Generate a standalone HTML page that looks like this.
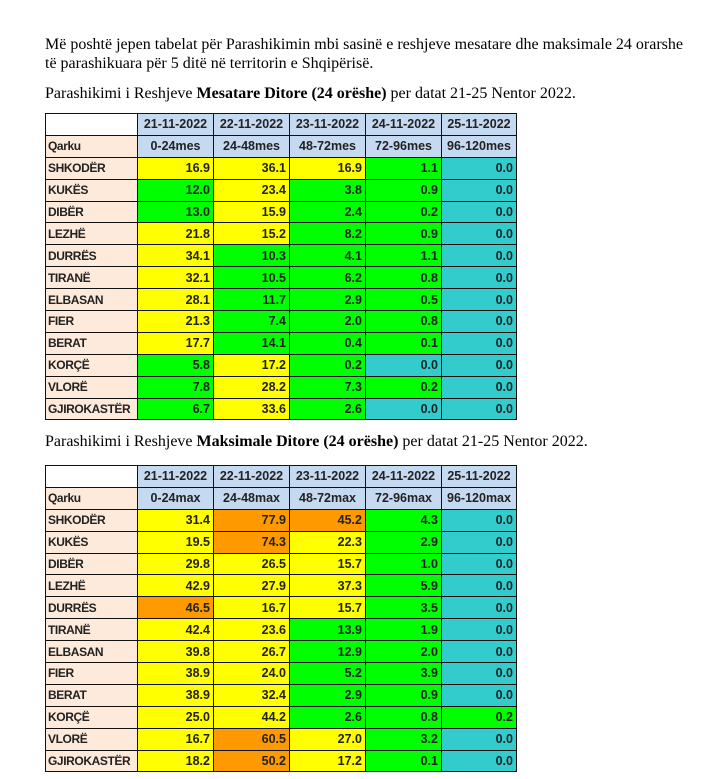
<!DOCTYPE html>
<html><head><meta charset="utf-8"><style>
body{margin:0;width:724px;height:779px;background:#fff;position:relative;overflow:hidden}
.p{position:absolute;left:45px;font-family:"Liberation Serif",serif;font-size:16px;color:#000;white-space:nowrap;line-height:19px}
table{position:absolute;left:45px;width:471px;border-collapse:collapse;table-layout:fixed;font-family:"Liberation Sans",sans-serif;font-weight:bold;font-size:12.5px;color:#222}
tr{height:21.9px}
td{border:1.5px solid #111;padding:0 3px;overflow:hidden;white-space:nowrap;text-align:right;box-sizing:border-box}
td.n{background:#fdeada;text-align:left;font-size:12px;letter-spacing:-0.4px;padding:0 2px}
td.h{background:#c5d9f1;text-align:center;padding:0}
td.e{background:#fff}
.y{background:#ffff00}.g{background:#00ff00}.t{background:#33cccc}.o{background:#ff9900}
</style></head><body>
<div class="p" style="top:35px">Më poshtë jepen tabelat për Parashikimin mbi sasinë e reshjeve mesatare dhe maksimale 24 orarshe</div>
<div class="p" style="top:54px">të parashikuara për 5 ditë në territorin e Shqipërisë.</div>
<div class="p" style="top:84px">Parashikimi i Reshjeve <b>Mesatare Ditore (24 orëshe)</b> per datat 21-25 Nentor 2022.</div>
<table style="top:113px">
<colgroup><col style="width:92px"><col style="width:76px"><col style="width:76px"><col style="width:76px"><col style="width:76px"><col style="width:75px"></colgroup>
<tr><td class="e"></td><td class="h">21-11-2022</td><td class="h">22-11-2022</td><td class="h">23-11-2022</td><td class="h">24-11-2022</td><td class="h">25-11-2022</td></tr>
<tr><td class="n">Qarku</td><td class="h">0-24mes</td><td class="h">24-48mes</td><td class="h">48-72mes</td><td class="h">72-96mes</td><td class="h">96-120mes</td></tr>
<tr><td class="n">SHKODËR</td><td class="y">16.9</td><td class="y">36.1</td><td class="y">16.9</td><td class="g">1.1</td><td class="t">0.0</td></tr>
<tr><td class="n">KUKËS</td><td class="g">12.0</td><td class="y">23.4</td><td class="g">3.8</td><td class="g">0.9</td><td class="t">0.0</td></tr>
<tr><td class="n">DIBËR</td><td class="g">13.0</td><td class="y">15.9</td><td class="g">2.4</td><td class="g">0.2</td><td class="t">0.0</td></tr>
<tr><td class="n">LEZHË</td><td class="y">21.8</td><td class="y">15.2</td><td class="g">8.2</td><td class="g">0.9</td><td class="t">0.0</td></tr>
<tr><td class="n">DURRËS</td><td class="y">34.1</td><td class="g">10.3</td><td class="g">4.1</td><td class="g">1.1</td><td class="t">0.0</td></tr>
<tr><td class="n">TIRANË</td><td class="y">32.1</td><td class="g">10.5</td><td class="g">6.2</td><td class="g">0.8</td><td class="t">0.0</td></tr>
<tr><td class="n">ELBASAN</td><td class="y">28.1</td><td class="g">11.7</td><td class="g">2.9</td><td class="g">0.5</td><td class="t">0.0</td></tr>
<tr><td class="n">FIER</td><td class="y">21.3</td><td class="g">7.4</td><td class="g">2.0</td><td class="g">0.8</td><td class="t">0.0</td></tr>
<tr><td class="n">BERAT</td><td class="y">17.7</td><td class="g">14.1</td><td class="g">0.4</td><td class="g">0.1</td><td class="t">0.0</td></tr>
<tr><td class="n">KORÇË</td><td class="g">5.8</td><td class="y">17.2</td><td class="g">0.2</td><td class="t">0.0</td><td class="t">0.0</td></tr>
<tr><td class="n">VLORË</td><td class="g">7.8</td><td class="y">28.2</td><td class="g">7.3</td><td class="g">0.2</td><td class="t">0.0</td></tr>
<tr><td class="n">GJIROKASTËR</td><td class="g">6.7</td><td class="y">33.6</td><td class="g">2.6</td><td class="t">0.0</td><td class="t">0.0</td></tr>
</table>
<div class="p" style="top:432px">Parashikimi i Reshjeve <b>Maksimale Ditore (24 orëshe)</b> per datat 21-25 Nentor 2022.</div>
<table style="top:465px">
<colgroup><col style="width:92px"><col style="width:76px"><col style="width:76px"><col style="width:76px"><col style="width:76px"><col style="width:75px"></colgroup>
<tr><td class="e"></td><td class="h">21-11-2022</td><td class="h">22-11-2022</td><td class="h">23-11-2022</td><td class="h">24-11-2022</td><td class="h">25-11-2022</td></tr>
<tr><td class="n">Qarku</td><td class="h">0-24max</td><td class="h">24-48max</td><td class="h">48-72max</td><td class="h">72-96max</td><td class="h">96-120max</td></tr>
<tr><td class="n">SHKODËR</td><td class="y">31.4</td><td class="o">77.9</td><td class="o">45.2</td><td class="g">4.3</td><td class="t">0.0</td></tr>
<tr><td class="n">KUKËS</td><td class="y">19.5</td><td class="o">74.3</td><td class="y">22.3</td><td class="g">2.9</td><td class="t">0.0</td></tr>
<tr><td class="n">DIBËR</td><td class="y">29.8</td><td class="y">26.5</td><td class="y">15.7</td><td class="g">1.0</td><td class="t">0.0</td></tr>
<tr><td class="n">LEZHË</td><td class="y">42.9</td><td class="y">27.9</td><td class="y">37.3</td><td class="g">5.9</td><td class="t">0.0</td></tr>
<tr><td class="n">DURRËS</td><td class="o">46.5</td><td class="y">16.7</td><td class="y">15.7</td><td class="g">3.5</td><td class="t">0.0</td></tr>
<tr><td class="n">TIRANË</td><td class="y">42.4</td><td class="y">23.6</td><td class="g">13.9</td><td class="g">1.9</td><td class="t">0.0</td></tr>
<tr><td class="n">ELBASAN</td><td class="y">39.8</td><td class="y">26.7</td><td class="g">12.9</td><td class="g">2.0</td><td class="t">0.0</td></tr>
<tr><td class="n">FIER</td><td class="y">38.9</td><td class="y">24.0</td><td class="g">5.2</td><td class="g">3.9</td><td class="t">0.0</td></tr>
<tr><td class="n">BERAT</td><td class="y">38.9</td><td class="y">32.4</td><td class="g">2.9</td><td class="g">0.9</td><td class="t">0.0</td></tr>
<tr><td class="n">KORÇË</td><td class="y">25.0</td><td class="y">44.2</td><td class="g">2.6</td><td class="g">0.8</td><td class="g">0.2</td></tr>
<tr><td class="n">VLORË</td><td class="y">16.7</td><td class="o">60.5</td><td class="y">27.0</td><td class="g">3.2</td><td class="t">0.0</td></tr>
<tr><td class="n">GJIROKASTËR</td><td class="y">18.2</td><td class="o">50.2</td><td class="y">17.2</td><td class="g">0.1</td><td class="t">0.0</td></tr>
</table>
</body></html>
